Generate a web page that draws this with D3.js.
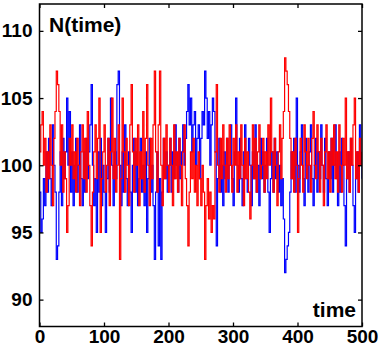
<!DOCTYPE html>
<html>
<head>
<meta charset="utf-8">
<script src="https://cdn.jsdelivr.net/npm/d3@7"></script>
<style>
html,body{margin:0;padding:0;background:#fff;}
svg{display:block;}
text{font-family:"Liberation Sans",Arial,Helvetica,sans-serif;font-weight:bold;fill:#000;}
</style>
</head>
<body>
<svg id="chart" width="384" height="346"></svg>
<script>
// time samples (every 2 time units)
const timeStep = 2;
const xTicks = [0, 100, 200, 300, 400, 500];
const yTicks = [90, 95, 100, 105, 110];
const xDomain = [0, 500];
const yDomain = [88, 112];

const redValues = [
101,103,104,100,102,98,101,99,103,100,97,102,104,107,106,104,100,103,98,101,99,95,97,102,100,
103,99,101,98,102,100,97,101,103,99,102,98,104,100,97,94,98,101,103,99,102,105,95,99,101,
103,98,100,102,97,101,105,99,102,98,100,103,93,99,105,101,98,102,100,97,103,106,101,98,102,
100,103,97,101,99,104,98,102,106,100,97,102,99,103,107,101,98,103,107,100,97,102,99,103,100,
98,102,100,97,103,99,101,98,102,100,97,101,103,99,97,94,98,101,99,102,98,100,97,101,99,
97,100,98,93,97,99,96,98,95,97,96,101,106,100,98,102,99,103,100,98,102,99,103,100,98,
102,100,103,98,101,99,103,100,97,102,99,101,98,96,100,103,99,102,98,101,103,99,100,102,98,
101,99,103,100,105,101,98,102,100,97,101,103,99,102,104,108,107,106,104,102,99,101,98,102,100,
95,99,102,100,98,103,101,99,102,100,98,102,104,100,99,103,101,98,102,100,97,101,103,99,101,
98,102,100,103,99,101,98,103,100,98,102,100,105,99,101,98,102,100,103,105,99,101,98,102,100,
101
];

const blueValues = [
98,95,96,99,97,101,98,102,99,97,103,100,98,93,94,98,101,97,102,99,101,105,100,104,98,
101,97,100,102,98,100,103,99,97,101,98,102,99,101,103,106,100,97,99,95,101,98,102,97,100,
98,95,99,102,98,105,100,97,101,99,106,107,100,97,101,98,103,99,97,101,98,95,100,102,98,
101,97,99,102,98,100,97,101,95,99,102,98,100,97,93,98,101,94,99,93,98,102,99,101,98,
100,102,98,101,99,103,100,98,102,99,101,103,100,102,104,106,103,105,101,103,104,100,102,103,99,
102,104,103,107,105,102,104,100,103,105,104,101,94,99,102,98,100,97,101,99,102,98,100,103,99,
97,101,105,100,98,102,99,97,101,103,99,98,102,100,97,101,99,103,98,100,97,102,99,101,98,
100,102,98,95,99,101,98,102,99,101,98,100,97,99,96,92,93,94,95,98,101,99,102,98,105,
100,98,101,103,99,97,102,100,98,101,103,99,97,100,102,98,101,99,103,100,98,102,99,97,101,
99,102,98,100,103,99,97,101,98,102,100,97,94,99,101,98,102,100,97,95,99,101,98,103,100,
99
];

const svg = d3.select("#chart");
const pLeft = 39.5, pRight = 362, pTop = 4, pBottom = 326.5;

const x = d3.scaleLinear().domain(xDomain).range([pLeft, pRight]);
const y = d3.scaleLinear().domain(yDomain).range([pBottom, pTop]);

const plot = svg.append("g");
plot.append("clipPath").attr("id","clip").append("rect")
  .attr("x", pLeft).attr("y", pTop).attr("width", pRight-pLeft).attr("height", pBottom-pTop);

const line = d3.line()
  .x((d,i) => x(i*timeStep))
  .y(d => y(d))
  .curve(d3.curveStepAfter);

plot.append("path").datum(blueValues)
  .attr("clip-path","url(#clip)")
  .attr("fill","none").attr("stroke","#0000ff").attr("stroke-width",1.2)
  .attr("d", line);
plot.append("path").datum(redValues)
  .attr("clip-path","url(#clip)")
  .attr("fill","none").attr("stroke","#ff0000").attr("stroke-width",1.2)
  .attr("d", line);

// axes (ticks inside on all four sides)
const tickLen = 4;
const axB = d3.axisBottom(x).tickValues(xTicks).tickSizeInner(-tickLen).tickSizeOuter(0).tickPadding(3);
const axT = d3.axisTop(x).tickValues(xTicks).tickSizeInner(-tickLen).tickSizeOuter(0).tickFormat("");
const axL = d3.axisLeft(y).tickValues(yTicks).tickSizeInner(-tickLen).tickSizeOuter(0).tickPadding(7);
const axR = d3.axisRight(y).tickValues(yTicks).tickSizeInner(-tickLen).tickSizeOuter(0).tickFormat("");

function style(g){
  g.select(".domain").remove();
  g.selectAll(".tick line").attr("stroke","#000").attr("stroke-width",1.3);
  g.selectAll(".tick text").style("font-size","19px").style("font-family","'Liberation Sans',Arial,sans-serif").style("font-weight","bold").attr("fill","#000");
}
svg.append("g").attr("transform",`translate(0,${pBottom})`).call(axB).call(style)
  .selectAll(".tick text").attr("dy","0.71em");
svg.append("g").attr("transform",`translate(0,${pTop})`).call(axT).call(style);
svg.append("g").attr("transform",`translate(${pLeft},0)`).call(axL).call(style);
svg.append("g").attr("transform",`translate(${pRight},0)`).call(axR).call(style);

svg.append("rect").attr("x",pLeft).attr("y",pTop).attr("width",pRight-pLeft).attr("height",pBottom-pTop)
  .attr("fill","none").attr("stroke","#000").attr("stroke-width",1.5);

svg.append("text").attr("x",49).attr("y",32).style("font-size","21px").text("N(time)");
svg.append("text").attr("x",356).attr("y",317).attr("text-anchor","end").style("font-size","21px").text("time");
</script>
</body>
</html>
